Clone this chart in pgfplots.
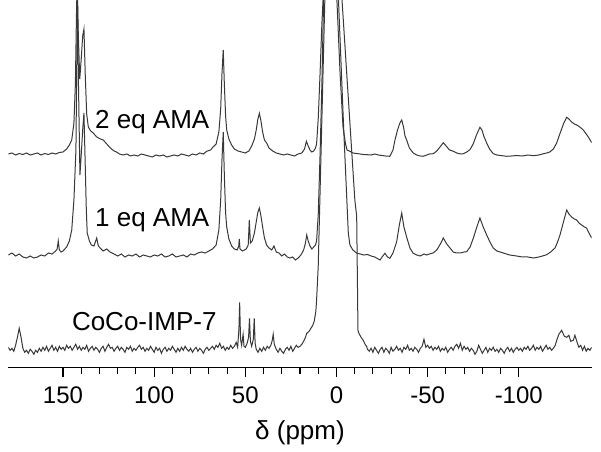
\documentclass[border=0pt]{standalone}
\usepackage{pgfplots}
\pgfplotsset{compat=1.18}
\usepackage{pgfplotstable}
\usepackage{fontspec}
\setmainfont{Liberation Sans}

% 2 eq AMA (intensity above its own baseline)
\pgfplotstableread{
x y
180 0
178 1
176 -1
174 0.5
172 -0.5
170 1
168 -1
166 0
164 1
162 -1
160 0.5
158 -0.5
156 1
154 0
152 1.5
150 2
148 5
146.5 9
145.2 14
144 31
143.2 70
142.6 140
142.2 175
141.6 120
140.8 75
140.0 95
139.2 118
138.5 125
137.8 80
137 40
136.1 27
134.8 23
133.4 21
131.5 17
129.5 15
127.9 14
126 10
124 6
122 3
120.6 2
119 0
117 -1
115 0
113 -2
111 -1
109 -2
107 0
105 -1
103 -2
101 -3
99 -1
97 -2
95 -1
93 -3
91 -2
89 -1
87 -2
85 0
83 -1
81 -2
79 0
77 -1
75 1
73 0
71.2 2.7
69 4
67.7 7
66 10
64.5 22
63.5 45
62.8 80
62.1 104
61.5 70
60.8 38
60.2 24
59 15
57.5 9
56 5
54 3
52 2
50 1
48 3
46.5 8
45 15
44 24
43.2 34
42.3 40.7
41.5 34
40.5 22
39.5 14
38.3 11
37 6
35 3
33 1
31 0
29 -1
27 0
25 -1
23 -2
21 0
19 1
17.5 5
16.5 12.7
15.5 8
14.5 4
13.5 2
12.5 3
11.5 6
10.9 10
10 35
9 80
8 130
7.2 160
3 500
-0.1 160
-2 80
-3.6 27
-5 10
-5.8 4
-7.4 2.7
-9 1
-11 0.5
-13 0
-14.7 -0.5
-16.6 -0.7
-19 -1
-21 0
-23 -1
-25 -1.5
-27 -2
-29.3 -2.3
-31 4
-32.1 14
-33.5 24
-34.8 31
-35.8 34
-36.8 27
-37.6 18
-38.5 14
-40 6
-42.1 1
-44 -1
-46 -2
-47.6 -2.3
-49.5 -1
-51 0
-53.1 0.3
-55 3
-56.8 7
-58.6 11.3
-60.2 8
-62 4
-64.1 2.7
-66 1
-68 0
-69.6 0.3
-71.5 2
-73.2 4.3
-75 10
-76.8 19
-78.7 26.7
-79.8 24
-80.8 18
-82.4 11
-84 5
-86 0.3
-88 -1
-90 -1.5
-93.4 -2.3
-96 -2
-99 -1.5
-102 -2
-105 -1
-108 -1.7
-111 -1
-113 0
-115.3 1
-117 2
-119 5
-120.8 11
-122.5 20
-124.5 30
-126.3 36.7
-127.5 35
-129 32
-130.5 30
-131.8 29
-133.5 27
-135.4 24
-137 20
-138.5 16
-140 11.3
}\twoeq

% 1 eq AMA
\pgfplotstableread{
x y
180 0
178 2
176 -1
174 1
172 -2
170 -3
168 -1
166 -3
164 -2
162 0
160 -1
158 2
156 1
154 4
153.2 6
152.6 14
152 5
151 3
150 4
149 6
148 8
146.5 14
145.2 25
144 55
142.9 105
142.4 200
142.0 250
141.5 170
140.7 80
140 100
139.2 125
138.5 142
137.8 90
137.2 45
136.7 22
135.5 14
134.4 10
133 9
131.5 17
130.6 9
129.6 7
128 4
126 6
124.2 3
122 1
120 -1
118 1
116 -2
114 0
112 -1
110 1
108 -2
106 0
104 -1
102 -2
100 0
98 -1
96 1
94 -2
92 -1
90 1
88 -2
86 -1
84 0
82 -2
80 1
78 0
76 2
74 3
72 2
70 4
68 6
66 10
64.5 25
63.5 55
62.8 95
62.1 123
61.5 80
60.8 42
60.2 28
59 16
57.5 9
56 6
54.5 5
53.6 9
53.3 16
52.9 6
51.5 4
50.5 5
49.5 6
48.4 10
47.8 35
47.2 12
46.2 14
45 22
44 33
43.2 42
42.3 47
41.5 40
40.5 28
39.5 17
38.3 10
37 7
35.5 5
34.3 9
33 3
31.5 2
30 -1
28.5 1
27 -2
25.5 -3
24 -2
22.5 -5
21 -3
19.5 0
18 5
17 12
16.3 20
15.5 14
14.5 9
13.5 6
12.5 8
11.5 10
10.9 14
10 40
9 100
8 170
7 260
3 600
-1 260
-4 125
-6.5 22
-7.4 10
-9 5
-11 2
-13 1
-15 0
-17 0.5
-19 -1
-21 -2
-23.9 -5
-25 -2
-26.6 1.7
-28 -2
-29.3 -3.3
-31 2
-33 13
-34.5 30
-35.8 42
-37 28
-38.5 18
-40.3 7
-42.1 1.7
-44 0
-46 -1
-48 1
-49.5 0
-51 1
-53 2
-55 5
-57 11
-58.6 17
-60.5 11
-62.3 7
-64 3
-65.9 2
-68 2
-70 3
-71.4 3.3
-73.3 8
-75.1 17
-77 28
-78.7 37
-80.5 28
-82.4 20
-84.2 13
-86 7
-88 4
-91.5 2
-95 0
-98.8 -1
-102 -2
-105 -2
-108 -3
-111 -2
-113 -1
-115.3 0.3
-117.5 3
-119.9 7
-121.3 13
-122.6 20
-124.5 33
-126.3 45
-127.5 41
-129 38
-130.5 36
-131.8 35
-133 32
-134.5 30
-136 28
-137.2 27
-138.5 22
-140 17
}\oneeq

% CoCo-IMP-7
\pgfplotstableread{
x y
180 2
179 -1
178 1
177 -2
176 4
175 12
174 21
173 12
172 1
171 -3
170 -1
169 -4
168 0
167 -2
166 -5
165 -1
164 -3
163 1
162 -2
161 2
160 -1
159 3
158 -2
157 1
156 4
155 -1
154 2
153 -2
152 3
151 0
150 2
149 -1
148 4
147 1
146 3
145 -1
144 2
143 5
142 0
141 3
140 -1
139 2
138 0
137 4
136 -2
135 1
134 3
133 -1
132 2
131 0
130 -3
129 1
128 3
127 -2
126 2
125 5
124 1
123 2
122 -2
121 1
120 3
119 -1
118 2
117 0
116 -3
115 2
114 0
113 3
112 -2
111 1
110 -1
109 2
108 4
107 0
106 2
105 -2
104 1
103 -1
102 3
101 0
100 -3
99 2
98 -1
97 1
96 -4
95 0
94 2
93 -2
92 1
91 -1
90 3
89 0
88 -3
87 1
86 -2
85 2
84 -1
83 3
82 0
81 -2
80 1
79 -3
78 0
77 2
76 -2
75 1
74 -1
73 -4
72 0
71 2
70 -1
69 1
68 3
67 0
66 4
65 2
64 6
63 1
62 3
61 -1
60 2
59 0
58 4
57 1
56 3
55 7
54.2 2
53.5 20
53.1 47
52.6 10
52 4
51.2 15
50.7 3
50 2
49 6
48.2 12
47.7 31
47.2 8
46.5 3
45.6 10
45.1 31
44.6 6
44 0
43 -3
42 1
41 -2
40 2
39 -1
38 3
37 1
36 4
35.2 9
34.7 15
34.1 5
33 0
32 -3
31 1
30 -2
29 -4
28 0
27 2
26 -1
25 3
24 -2
23 1
22 4
21 2
20 3
19 5
18 8
17 12
16.3 16
15 18
14 21
13 24
12.2 28
11.3 38
10.9 49
10.0 83
9.1 149
6.3 355
3 800
-2.85 355
-10.1 149
-11.1 133
-11.8 19
-12.3 16
-13.5 12
-14.7 9
-15.7 5
-16.6 2.6
-17 0
-18 -2
-19 1
-20 -3
-21 2
-22 -1
-23 -4
-24 0
-25 2
-26 -3
-27 1
-28 -1
-29 -4
-30 2
-31 -2
-32 0
-33 3
-34 -1
-35 1
-36 -3
-37 2
-38 0
-39 4
-40 -1
-41 1
-42 -2
-43 2
-44 0
-45 -3
-46 1
-47 3
-48 10
-49 2
-50 4
-51 1
-52 3
-53 -1
-54 2
-55 0
-56 3
-57 -2
-58 1
-59 -1
-60 2
-61 -3
-62 0
-63 2
-64 -1
-65 3
-66 5
-67 1
-68 6
-69 -1
-70 3
-71 0
-72 2
-73 -2
-74 1
-75 -1
-76 -5
-77 -2
-78 4
-79 0
-80 -4
-81 -1
-82 2
-83 -3
-84 1
-85 -1
-86 2
-87 -2
-88 0
-89 -3
-90 1
-91 -1
-92 -4
-93 0
-94 2
-95 -2
-96 1
-97 -3
-98 0
-99 2
-100 -1
-101 1
-102 -2
-103 2
-104 0
-105 3
-106 -1
-107 1
-108 4
-109 -1
-110 2
-111 0
-112 3
-113 -2
-114 1
-115 4
-116 0
-117 2
-118 -1
-119 1
-120 4
-121 10
-122 15
-123.5 19
-125 13
-126.3 12
-127.5 14
-128.5 8
-129.9 9
-130.8 14
-132 7
-133 2
-134 4
-135 -1
-136 3
-137 -2
-138 1
-139 -1
-140 2
}\coco

\begin{document}
\begin{tikzpicture}
\useasboundingbox (-6.225pt,-62.475pt) rectangle (444.525pt,275.78pt);
\begin{axis}[
  at={(0,0)}, anchor=south west,
  width=437.55pt, height=275.78pt, scale only axis,
  x dir=reverse,
  xmin=-140, xmax=180, ymin=0, ymax=367.7,
  axis x line=bottom, axis y line=none,
  axis line style={-, line width=1pt, black},
  xtick={-100,-50,0,50,100,150},
  minor x tick num=4,
  tick align=outside,
  major tick length=7pt, minor tick length=5pt,
  every tick/.style={black, line width=0.8pt},
  every minor tick/.style={black, line width=0.8pt},
  ytick=\empty,
  xticklabel style={font=\fontsize{18}{20}\selectfont, anchor=base, yshift=-20pt},
  /pgf/number format/assume math mode=true,
  clip mode=individual,
]
\addplot[black!78, line width=0.75pt] table[x=x, y expr=\thisrow{y}+213.7] {\twoeq};
\addplot[black!78, line width=0.75pt] table[x=x, y expr=\thisrow{y}+112.7] {\oneeq};
\addplot[black!78, line width=0.75pt] table[x=x, y expr=\thisrow{y}+18.4] {\coco};
\node[anchor=base west, inner sep=0pt, font=\fontsize{19.5}{22}\selectfont] at (axis cs:132.5,239.4) {2 eq AMA};
\node[anchor=base west, inner sep=0pt, font=\fontsize{19.5}{22}\selectfont] at (axis cs:132.5,141) {1 eq AMA};
\node[anchor=base west, inner sep=0pt, font=\fontsize{19.5}{22}\selectfont] at (axis cs:145.2,37.7) {CoCo-IMP-7};
\node[anchor=base, inner sep=0pt, font=\fontsize{19.5}{22}\selectfont] at (rel axis cs:0.5,0) [yshift=-53.5pt] {δ (ppm)};
\end{axis}
\end{tikzpicture}
\end{document}
